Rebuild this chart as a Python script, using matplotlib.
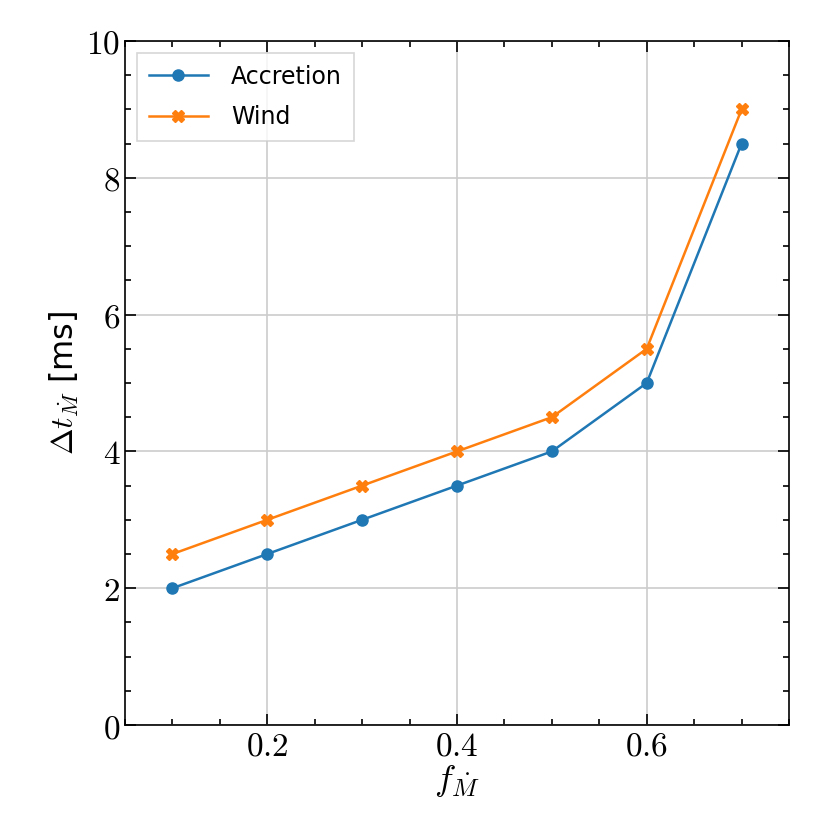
import matplotlib
matplotlib.use("Agg")
import matplotlib.pyplot as plt
from matplotlib.ticker import MultipleLocator

f_mdot = [0.1, 0.2, 0.3, 0.4, 0.5, 0.6, 0.7]
accretion = [2.0, 2.5, 3.0, 3.5, 4.0, 5.0, 8.5]
wind = [2.5, 3.0, 3.5, 4.0, 4.5, 5.5, 9.0]
xticks = [0.2, 0.4, 0.6]
yticks = [0, 2, 4, 6, 8, 10]

plt.rcParams['mathtext.fontset'] = 'cm'
plt.rcParams['font.family'] = ['DejaVu Sans']

fig = plt.figure(figsize=(8.3, 8.3), dpi=100)
ax = fig.add_axes([125/830, 1-725/830, (789-125)/830, (725-41)/830])

ax.plot(f_mdot, accretion, marker='o', color='#1f77b4', markersize=8, lw=1.8, label='Accretion')
ax.plot(f_mdot, wind, marker='X', color='#ff7f0e', markersize=8, lw=1.8, label='Wind')

ax.set_xlim(0.05, 0.75)
ax.set_ylim(0, 10)
ax.set_xticks(xticks)
ax.set_xticklabels([f'${t}$' for t in xticks])
ax.set_yticks(yticks)
ax.set_yticklabels([f'${t}$' for t in yticks])
ax.xaxis.set_minor_locator(MultipleLocator(0.05))
ax.yaxis.set_minor_locator(MultipleLocator(0.5))
ax.tick_params(which='both', direction='in', top=True, right=True, labelsize=24, width=1.2)
ax.tick_params(which='major', length=8)
ax.tick_params(which='minor', length=4)
for s in ax.spines.values():
    s.set_linewidth(1.2)
ax.grid(True, which='major', color='#cccccc', lw=1.2)
ax.set_axisbelow(True)

ax.set_xlabel(r'$f_{\dot{M}}$', fontsize=26, labelpad=0)
ax.set_ylabel(r'$\Delta t_{\dot{M}}$ [ms]', fontsize=23, labelpad=4)

leg = ax.legend(loc='upper left', fontsize=17, fancybox=False, edgecolor='#cccccc',
                handlelength=2.5, handletextpad=1.0, borderpad=0.5, labelspacing=0.7,
                framealpha=0.8)
leg.get_frame().set_linewidth(1.2)

fig.savefig('out.png', dpi=100)
